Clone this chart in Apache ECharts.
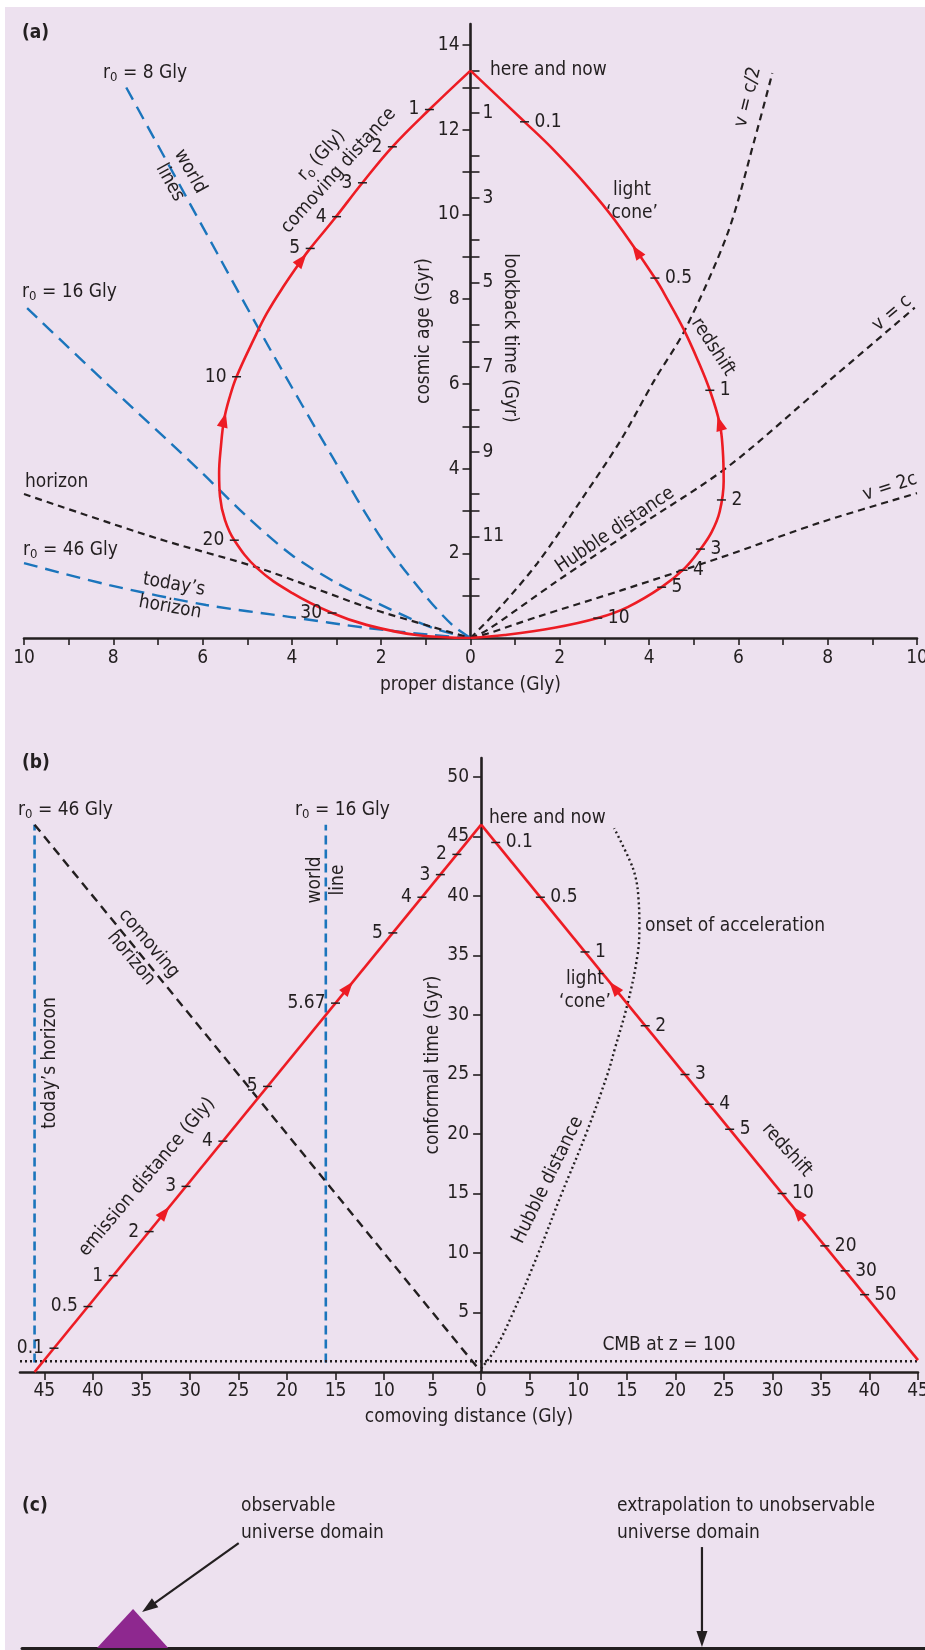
<!DOCTYPE html>
<html><head><meta charset="utf-8">
<script src="https://cdn.jsdelivr.net/npm/echarts@6/dist/echarts.min.js"></script>
<style>html,body{margin:0;padding:0;background:#fff}#c{width:925px;height:1650px}</style>
</head><body><div id="c"></div><script>
// ---------- Panel (a): proper distance (Gly) vs cosmic age (Gyr) ----------
const NOW_AGE = 13.4;
const aDistTicks = [-10,-9,-8,-7,-6,-5,-4,-3,-2,-1,0,1,2,3,4,5,6,7,8,9,10];
const aDistLabels = [-10,-8,-6,-4,-2,0,2,4,6,8,10];
const aAgeTicks = [1,2,3,4,5,6,7,8,9,10,11,12,13,14];
const aAgeLabels = [2,4,6,8,10,12,14];
const aOddAges = [1,3,5,7,9,11,13];
const aLookbackTicks = [0,1,2,3,4,5,6,7,8,9,10,11,12];
const aLookbackLabels = [1,3,5,7,9,11];

const aLightConeLeft = [[0,0],[-1.21,0.07],[-2.33,0.31],[-3.1,0.59],[-3.99,1.06],[-4.78,1.65],[-5.29,2.31],[-5.5,2.79],[-5.61,3.34],[-5.63,3.89],[-5.59,4.52],[-5.52,5.15],[-5.39,5.7],[-5.24,6.17],[-4.86,7.04],[-4.56,7.67],[-4.19,8.3],[-3.78,8.93],[-3.59,9.2],[-3.07,9.87],[-2.42,10.75],[-1.75,11.6],[-0.92,12.48],[0,13.4]];
const aLightConeRight = [[0,0],[0.76,0.07],[1.88,0.24],[2.85,0.47],[3.52,0.73],[4.28,1.2],[4.8,1.65],[5.15,2.1],[5.4,2.5],[5.58,2.98],[5.67,3.7],[5.65,4.44],[5.58,5.07],[5.36,5.85],[5.09,6.56],[4.77,7.3],[4.42,7.98],[4.13,8.5],[3.23,9.87],[2.63,10.65],[1.84,11.55],[1.21,12.19],[0,13.4]];
const aWorldLine8 = [[-7.71,13.0],[-5.67,9.08],[-4.44,6.73],[-3.09,4.27],[-1.97,2.31],[-0.99,0.97],[-0.4,0.3],[0,0]];
const aWorldLine16 = [[-9.93,7.79],[-8.16,6.02],[-6.08,3.97],[-4.99,2.85],[-3.99,1.95],[-3.0,1.3],[-2.04,0.8],[-0.85,0.24],[0,0]];
const aWorldLine46 = [[-10,1.77],[-8.09,1.25],[-5.92,0.78],[-4.06,0.5],[-2.33,0.24],[-0.85,0.07],[0,0]];
const aHorizon = [[-10,3.4],[-7.04,2.36],[-4.73,1.65],[-2.33,0.73],[-0.85,0.26],[0,0]];
const aVHalfC = [[0,0],[0.61,0.66],[1.5,1.77],[2.48,3.26],[3.37,4.68],[4.12,6.09],[4.8,7.27],[5.76,9.56],[6.36,11.76],[6.76,13.34]];
const aVC = [[0,0],[0.38,0.19],[1.88,1.3],[3.74,2.62],[5.76,4.04],[7.87,5.93],[9.95,7.8]];
const aV2C = [[0,0],[0.37,0.1],[1.5,0.5],[3.39,1.13],[5.63,1.91],[7.87,2.74],[10,3.42]];
const aComovingTickPts = [[-0.92,12.48],[-1.75,11.6],[-2.42,10.75],[-3.0,9.95],[-3.59,9.2],[-5.24,6.17],[-5.29,2.31],[-3.1,0.59]];
const aComovingTickLabels = ['1','2','3','4','5','10','20','30'];
const aRedshiftTickPts = [[1.21,12.19],[4.13,8.5],[5.36,5.85],[5.62,3.26],[5.15,2.1],[4.76,1.6],[4.28,1.2],[2.85,0.47]];
const aRedshiftTickLabels = ['0.1','0.5','1','2','3','4','5','10'];
const aArrows = [[-3.78,8.93,-3.07,9.87],[-5.52,5.15,-5.39,5.7],[3.72,9.13,3.23,9.87],[5.58,5.07,5.36,5.85]];

// ---------- Panel (b): comoving distance (Gly) vs conformal time (Gyr) ----------
const bDistTicks = [-45,-40,-35,-30,-25,-20,-15,-10,-5,0,5,10,15,20,25,30,35,40,45];
const bTimeTicks = [5,10,15,20,25,30,35,40,45,50];
const bLightConeLeft = [[-46,0],[0,46]];
const bLightConeRight = [[0,46],[45,1]];
const bTodaysHorizon = [[-46,0.8],[-46,46]];
const bWorldLine16 = [[-16,0.8],[-16,46]];
const bComovingHorizon = [[-46,46],[0,0]];
const bHubble = [[0,0.3],[1.4,1.85],[3.3,5],[5.9,10],[8.3,15],[10.8,20],[13.0,25],[13.75,27.1],[15.1,31],[16.1,35],[16.3,37.4],[16.2,39.9],[15.9,41.6],[15.3,43],[13.7,45.7]];
const bCMB = [[-47.5,0.9],[45,0.9]];
const bEmissionTickPts = [[-44,2],[-40.5,5.5],[-37.9,8.1],[-34.2,11.8],[-30.4,15.6],[-26.6,19.4],[-22,24],[-15,31],[-9.1,36.9],[-6.1,39.9],[-4.2,41.8],[-2.5,43.5]];
const bEmissionTickLabels = ['0.1','0.5','1','2','3','4','5','5.67','5','4','3','2'];
const bRedshiftTickPts = [[1.5,44.5],[6.1,39.9],[10.7,35.3],[16.9,29.1],[21,25],[23.5,22.5],[25.6,20.4],[31,15],[35.4,10.6],[37.5,8.5],[39.5,6.5]];
const bRedshiftTickLabels = ['0.1','0.5','1','2','3','4','5','10','20','30','50'];
const bArrows = [[-32.6,13.4,-31.6,14.4],[-13.7,32.3,-12.7,33.3],[13.7,32.3,12.7,33.3],[32.6,13.4,31.6,14.4]];

// ---------- Panel (c): schematic ----------
const cObservable = [[8.3,0],[12.3,2.64],[16.2,0]];
const cArrows = [[24.0,7.09,13.3,2.43],[75.3,6.82,75.3,0.07]];

// ---------- styles ----------
const INK = '#231f20', RED = '#ed1c24', BLUE = '#1b75bc', BG = '#ede1ef', PURPLE = '#8e288f';
const FONT = '"Liberation Sans Narrow","Arial Narrow","DejaVu Sans Condensed",sans-serif';
const FS = 19;

const chart = echarts.init(document.getElementById('c'), null, {width:925, height:1650});

const PA = [0, 0], PB = [3, 3], PC = [5, 5];
function lineS(ax, data, color, width, type, z, smooth) {
  return {type:'line', xAxisIndex:ax[0], yAxisIndex:ax[1], data, symbol:'none', showSymbol:false,
    smooth: smooth || 0, lineStyle:{color, width, type, cap:'butt'}, z: z || 2, silent:true, animation:false};
}
function tickS(ax, pts, labels, side) {
  return {type:'custom', xAxisIndex:ax[0], yAxisIndex:ax[1], data:pts, clip:false, z:6, silent:true, animation:false,
    renderItem(params, api) {
      const p = api.coord([api.value(0), api.value(1)]);
      const s = side === 'left' ? -1 : 1;
      return {type:'group', children:[
        {type:'line', shape:{x1:p[0]-4.5, y1:p[1], x2:p[0]+4.5, y2:p[1]}, style:{stroke:INK, lineWidth:1.5}},
        {type:'text', style:{text:labels[params.dataIndex], x:p[0]+s*10, y:p[1], align: side==='left'?'right':'left',
          verticalAlign:'middle', fontFamily:FONT, fontSize:FS, fill:INK}}
      ]};
    }};
}
function arrowHeadS(ax, data, color, L, W) {
  return {type:'custom', xAxisIndex:ax[0], yAxisIndex:ax[1], data, clip:false, z:7, silent:true, animation:false,
    renderItem(params, api) {
      const p = api.coord([api.value(0), api.value(1)]);
      const q = api.coord([api.value(2), api.value(3)]);
      let dx = q[0]-p[0], dy = q[1]-p[1]; const d = Math.hypot(dx, dy); dx /= d; dy /= d;
      const tip = [p[0]+dx*L/2, p[1]+dy*L/2], b = [p[0]-dx*L/2, p[1]-dy*L/2];
      return {type:'polygon', shape:{points:[tip, [b[0]-dy*W/2, b[1]+dx*W/2], [b[0]+dy*W/2, b[1]-dx*W/2]]}, style:{fill:color}};
    }};
}
function arrowLineS(ax, data, color, L, W) {
  return {type:'custom', xAxisIndex:ax[0], yAxisIndex:ax[1], data, clip:false, z:7, silent:true, animation:false,
    renderItem(params, api) {
      const p = api.coord([api.value(0), api.value(1)]);
      const q = api.coord([api.value(2), api.value(3)]);
      let dx = q[0]-p[0], dy = q[1]-p[1]; const d = Math.hypot(dx, dy); dx /= d; dy /= d;
      const b = [q[0]-dx*L, q[1]-dy*L];
      return {type:'group', children:[
        {type:'line', shape:{x1:p[0], y1:p[1], x2:b[0]+dx, y2:b[1]+dy}, style:{stroke:color, lineWidth:2.2}},
        {type:'polygon', shape:{points:[q, [b[0]-dy*W/2, b[1]+dx*W/2], [b[0]+dy*W/2, b[1]-dx*W/2]]}, style:{fill:color}}
      ]};
    }};
}

const RICH = {
  n: {fontFamily:FONT, fontSize:FS, fill:INK},
  s: {fontFamily:FONT, fontSize:13, fill:INK, lineHeight:12, verticalAlign:'bottom'}
};
function txt(x, y, text, o) {
  o = o || {};
  return {type:'text', x, y, rotation:(o.rot||0)*Math.PI/180, z:100, silent:true,
    style:{text, x:0, y:0, align:o.align||'left', verticalAlign:o.va||'middle', fontFamily:FONT,
      fontSize:o.size||FS, fontWeight:o.bold?'bold':'normal', fill:INK, lineHeight:o.lh||23, rich:RICH}};
}

const labelStyle = {fontFamily:FONT, fontSize:FS, color:INK};
const nameStyle = {fontFamily:FONT, fontSize:FS, color:INK};
const axLine = {onZero:false, lineStyle:{color:INK, width:2.6}};
const tickLine = {color:INK, width:1.6};
const hiddenX = gi => ({gridIndex:gi, type:'value', min:0, max:1, show:false});
const G = (left, top, width, height) => ({left, top, width, height, containLabel:false, outerBoundsMode:'none'});

const option = {
  backgroundColor: BG,
  animation: false,
  grid: [
    G(24, 24, 893, 614),       // 0 panel a data
    G(470.5, 24, 300, 614),    // 1 cosmic age axis at x = 0
    G(100, 24, 370.5, 614),    // 2 lookback axis at x = 0
    G(20, 758, 898, 614),      // 3 panel b data
    G(481.1, 758, 300, 614),   // 4 conformal time axis at x = 0
    G(22, 1500, 903, 148)      // 5 panel c
  ],
  xAxis: [
    {gridIndex:0, type:'value', min:-10, max:10, axisLine:axLine,
      axisTick:{show:true, length:7, lineStyle:tickLine, customValues:aDistTicks},
      axisLabel:Object.assign({margin:11, customValues:aDistLabels, formatter:v=>String(Math.abs(v))}, labelStyle),
      splitLine:{show:false}, name:'proper distance (Gly)', nameLocation:'middle', nameGap:38, nameTextStyle:nameStyle},
    hiddenX(1),
    hiddenX(2),
    {gridIndex:3, type:'value', min:-47.5, max:45, axisLine:axLine,
      axisTick:{show:true, length:8, lineStyle:tickLine, customValues:bDistTicks},
      axisLabel:Object.assign({margin:10, customValues:bDistTicks, formatter:v=>String(Math.abs(v))}, labelStyle),
      splitLine:{show:false}, name:'comoving distance (Gly)', nameLocation:'middle', nameGap:36, nameTextStyle:nameStyle},
    hiddenX(4),
    {gridIndex:5, type:'value', min:0, max:100, axisLine:{onZero:false, lineStyle:{color:INK, width:3}},
      axisTick:{show:false}, axisLabel:{show:false}, splitLine:{show:false}}
  ],
  yAxis: [
    {gridIndex:0, type:'value', min:0, max:14.5, show:false},
    {gridIndex:1, type:'value', position:'left', min:0, max:14.5, axisLine:axLine,
      axisTick:{show:true, length:8, lineStyle:tickLine, customValues:aAgeTicks},
      axisLabel:Object.assign({margin:11, customValues:aAgeLabels}, labelStyle),
      splitLine:{show:false}, name:'cosmic age (Gyr)', nameLocation:'middle', nameRotate:90, nameGap:34, nameTextStyle:nameStyle},
    {gridIndex:2, type:'value', position:'right', inverse:true, min:NOW_AGE-14.5, max:NOW_AGE,
      axisLine:{show:false, onZero:false},
      axisTick:{show:true, length:9, lineStyle:tickLine,
        customValues:aLookbackTicks.concat(aOddAges.map(a => +(NOW_AGE - a).toFixed(2)))},
      axisLabel:Object.assign({margin:12, customValues:aLookbackLabels}, labelStyle),
      splitLine:{show:false}},
    {gridIndex:3, type:'value', min:0, max:51.6, show:false},
    {gridIndex:4, type:'value', position:'left', min:0, max:51.6, axisLine:axLine,
      axisTick:{show:true, length:8, lineStyle:tickLine, customValues:bTimeTicks},
      axisLabel:Object.assign({margin:12, customValues:bTimeTicks}, labelStyle),
      splitLine:{show:false}, name:'conformal time (Gyr)', nameLocation:'middle', nameRotate:90, nameGap:39, nameTextStyle:nameStyle},
    {gridIndex:5, type:'value', min:0, max:10, show:false}
  ],
  series: [
    // panel a
    lineS(PA, aWorldLine8, BLUE, 2.4, [14,8], 2, 0.3),
    lineS(PA, aWorldLine16, BLUE, 2.4, [14,8], 2, 0.3),
    lineS(PA, aWorldLine46, BLUE, 2.4, [14,8], 2, 0.3),
    lineS(PA, aHorizon, INK, 2.2, [7,5], 2, 0.3),
    lineS(PA, aVHalfC, INK, 2.2, [7,5], 2, 0.3),
    lineS(PA, aVC, INK, 2.2, [7,5], 2, 0.3),
    lineS(PA, aV2C, INK, 2.2, [7,5], 2, 0.3),
    lineS(PA, aLightConeLeft, RED, 2.6, 'solid', 4, 0.4),
    lineS(PA, aLightConeRight, RED, 2.6, 'solid', 4, 0.4),
    tickS(PA, aComovingTickPts, aComovingTickLabels, 'left'),
    tickS(PA, aRedshiftTickPts, aRedshiftTickLabels, 'right'),
    arrowHeadS(PA, aArrows, RED, 15, 11),
    // panel b
    lineS(PB, bTodaysHorizon, BLUE, 2.6, [9,5], 2),
    lineS(PB, bWorldLine16, BLUE, 2.6, [9,5], 2),
    lineS(PB, bComovingHorizon, INK, 2.4, [9,6], 2),
    lineS(PB, bHubble, INK, 2.4, [2,3], 2, 0.4),
    lineS(PB, bCMB, INK, 2.4, [2,3], 2),
    lineS(PB, bLightConeLeft, RED, 2.6, 'solid', 4),
    lineS(PB, bLightConeRight, RED, 2.6, 'solid', 4),
    tickS(PB, bEmissionTickPts, bEmissionTickLabels, 'left'),
    tickS(PB, bRedshiftTickPts, bRedshiftTickLabels, 'right'),
    arrowHeadS(PB, bArrows, RED, 15, 11),
    // panel c
    {type:'line', xAxisIndex:PC[0], yAxisIndex:PC[1], data:cObservable, symbol:'none', lineStyle:{width:0},
      areaStyle:{color:PURPLE, opacity:1}, silent:true, animation:false, z:3},
    arrowLineS(PC, cArrows, INK, 16, 11)
  ],
  graphic: {elements: [
    {type:'rect', z:-100, silent:true, shape:{x:0, y:0, width:925, height:7}, style:{fill:'#fff'}},
    {type:'rect', z:-100, silent:true, shape:{x:0, y:0, width:5, height:1650}, style:{fill:'#fff'}},
    // panel a
    txt(22, 33, '(a)', {bold:true, size:19}),
    txt(103, 73, '{n|r}{s|0}{n| = 8 Gly}'),
    txt(180, 177, 'world\nlines', {align:'center', rot:-61}),
    txt(330, 163, '{n|r}{s|o}{n| (Gly)}\ncomoving distance', {align:'center', rot:48}),
    txt(22, 292, '{n|r}{s|0}{n| = 16 Gly}'),
    txt(25, 482, 'horizon'),
    txt(23, 550, '{n|r}{s|0}{n| = 46 Gly}'),
    txt(172, 596, 'today’s\nhorizon', {align:'center', rot:-10}),
    txt(490, 70, 'here and now'),
    txt(632, 202, 'light\n‘cone’', {align:'center'}),
    txt(748, 97, 'v = c/2', {align:'center', rot:76}),
    txt(713, 347, 'redshift', {align:'center', rot:-57}),
    txt(510, 338, 'lookback time (Gyr)', {align:'center', rot:-90}),
    txt(615, 530, 'Hubble distance', {align:'center', rot:34}),
    txt(892, 313, 'v = c', {align:'center', rot:40}),
    txt(890, 487, 'v = 2c', {align:'center', rot:18}),
    // panel b
    txt(22, 763, '(b)', {bold:true, size:19}),
    txt(18, 810, '{n|r}{s|0}{n| = 46 Gly}'),
    txt(295, 810, '{n|r}{s|0}{n| = 16 Gly}'),
    txt(327, 880, 'world\nline', {align:'center', rot:90}),
    txt(140, 951, 'comoving\nhorizon', {align:'center', rot:-50}),
    txt(50, 1063, 'today’s horizon', {align:'center', rot:90}),
    txt(147, 1177, 'emission distance (Gly)', {align:'center', rot:50}),
    txt(489, 818, 'here and now'),
    txt(645, 926, 'onset of acceleration'),
    txt(585, 991, 'light\n‘cone’', {align:'center'}),
    txt(787, 1150, 'redshift', {align:'center', rot:-48}),
    txt(548, 1180, 'Hubble distance', {align:'center', rot:64}),
    txt(669, 1345, 'CMB at z = 100', {align:'center'}),
    // panel c
    txt(22, 1506, '(c)', {bold:true, size:19}),
    txt(241, 1520, 'observable\nuniverse domain', {lh:27}),
    txt(617, 1520, 'extrapolation to unobservable\nuniverse domain', {lh:27})
  ]}
};
chart.setOption(option);
</script></body></html>
